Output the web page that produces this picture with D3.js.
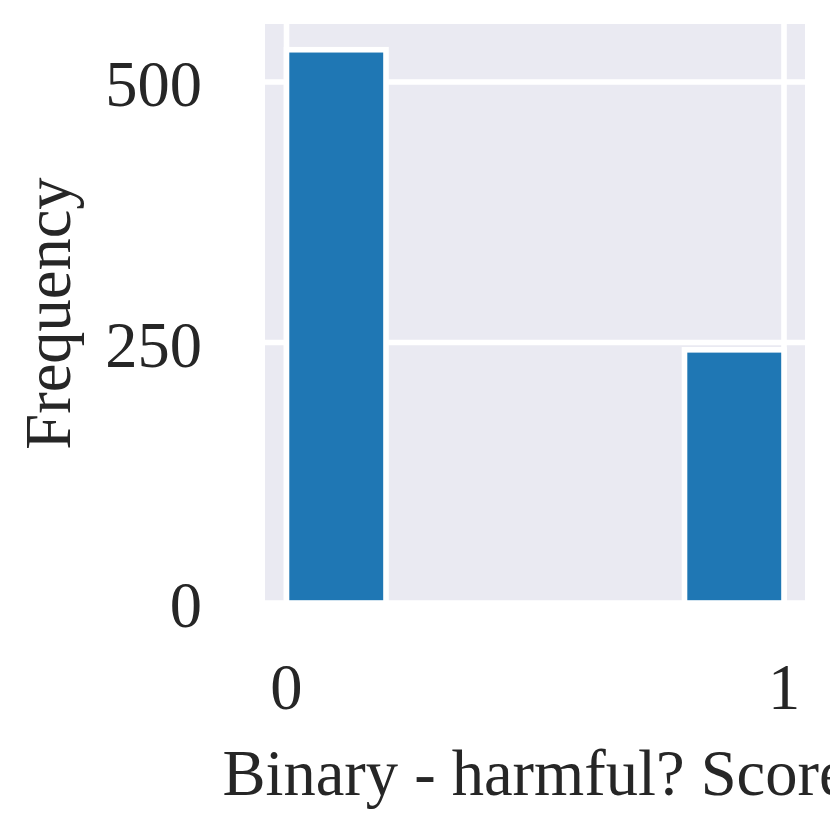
<!DOCTYPE html>
<html>
<head>
<meta charset="utf-8">
<script src="https://cdn.jsdelivr.net/npm/d3@7"></script>
<style>
	body { margin: 0; background: #ffffff; }
	svg { display: block; }
</style>
</head>
<body>
<script>
	// histogram data (5 bins between 0 and 1)
	var binEdges = [0, 0.2, 0.4, 0.6, 0.8, 1.0];
	var counts = [531, 0, 0, 0, 243];
	var xTicks = [0, 1];
	var yTicks = [0, 250, 500];

	var width = 830,
		height = 830;

	var plot = {left: 265, right: 805, top: 24, bottom: 603};

	var svg = d3.select("body").append("svg")
		.attr("width", width)
		.attr("height", height);

	var x = d3.scaleLinear()
		.domain([-0.0432, 1.0422])
		.range([plot.left, plot.right]);

	var y = d3.scaleLinear()
		.domain([0, 555.7])
		.range([plot.bottom, plot.top]);

	svg.append("clipPath")
		.attr("id", "clip")
		.append("rect")
		.attr("x", plot.left)
		.attr("y", plot.top)
		.attr("width", plot.right - plot.left)
		.attr("height", plot.bottom - plot.top);

	svg.append("rect")
		.attr("x", plot.left)
		.attr("y", plot.top)
		.attr("width", plot.right - plot.left)
		.attr("height", plot.bottom - plot.top)
			.style("fill", "#eaeaf2");

	var grid = svg.append("g")
		.attr("clip-path", "url(#clip)");

	grid.selectAll(".vgrid")
		.data(xTicks)
		.enter().append("line")
		.attr("x1", function(d) { return x(d); })
		.attr("x2", function(d) { return x(d); })
		.attr("y1", plot.top)
		.attr("y2", plot.bottom)
			.style("stroke", "#ffffff")
			.style("stroke-width", 5.6);

	grid.selectAll(".hgrid")
		.data(yTicks)
		.enter().append("line")
		.attr("x1", plot.left)
		.attr("x2", plot.right)
		.attr("y1", function(d) { return y(d); })
		.attr("y2", function(d) { return y(d); })
			.style("stroke", "#ffffff")
			.style("stroke-width", 5.6);

	var bins = counts.map(function(c, i) {
		return {x0: binEdges[i], x1: binEdges[i + 1], count: c};
	}).filter(function(d) { return d.count > 0; });

	svg.append("g")
		.attr("clip-path", "url(#clip)")
		.selectAll("rect")
		.data(bins)
		.enter().append("rect")
		.attr("x", function(d) { return x(d.x0); })
		.attr("y", function(d) { return y(d.count); })
		.attr("width", function(d) { return x(d.x1) - x(d.x0); })
		.attr("height", function(d) { return y(0) - y(d.count); })
			.style("fill", "#1f77b4")
			.style("stroke", "#ffffff")
			.style("stroke-width", 5.6);

	var font = "'Liberation Serif', 'Times New Roman', serif";
	var fontSize = "64.5px";

	svg.selectAll(".ytick")
		.data(yTicks)
		.enter().append("text")
		.attr("x", 202)
		.attr("y", function(d) { return y(d) + 24; })
		.attr("text-anchor", "end")
			.style("font-family", font)
			.style("font-size", fontSize)
			.style("fill", "#262626")
		.text(function(d) { return d; });

	svg.selectAll(".xtick")
		.data(xTicks)
		.enter().append("text")
		.attr("x", function(d) { return x(d); })
		.attr("y", 709)
		.attr("text-anchor", "middle")
			.style("font-family", font)
			.style("font-size", fontSize)
			.style("fill", "#262626")
		.text(function(d) { return d; });

	svg.append("text")
		.attr("x", (plot.left + plot.right) / 2)
		.attr("y", 795)
		.attr("text-anchor", "middle")
			.style("font-family", font)
			.style("font-size", fontSize)
			.style("fill", "#262626")
		.text("Binary - harmful? Score");

	svg.append("text")
		.attr("transform", "translate(70," + (plot.top + plot.bottom) / 2 + ") rotate(-90)")
		.attr("text-anchor", "middle")
			.style("font-family", font)
			.style("font-size", fontSize)
			.style("fill", "#262626")
		.text("Frequency");
</script>
</body>
</html>
